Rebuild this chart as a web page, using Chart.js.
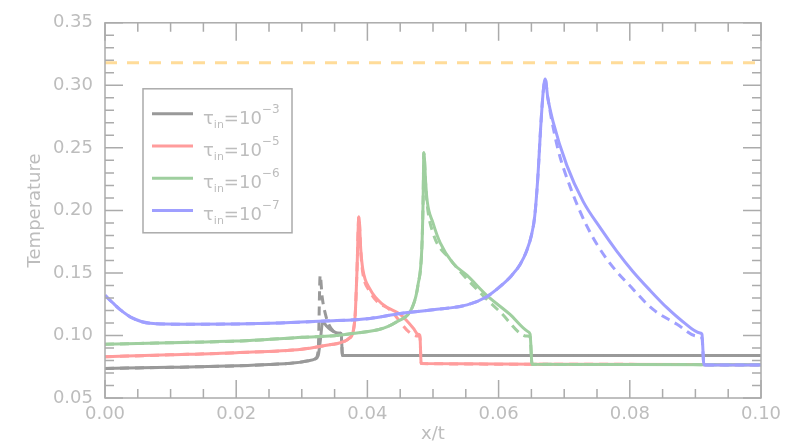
<!DOCTYPE html>
<html>
<head>
<meta charset="utf-8">
<script src="https://cdn.jsdelivr.net/npm/chart.js@4/dist/chart.umd.min.js"></script>
<style>body{margin:0;background:#fff}</style>
</head>
<body>
<canvas id="chart" width="800" height="443"></canvas>
<script>
// values
const xTickVals = [0, 0.02, 0.04, 0.06, 0.08, 0.10];
const yTickVals = [0.05, 0.10, 0.15, 0.20, 0.25, 0.30, 0.35];

// tau_in = 1e-3 (grey)
const tau3X  = [0, 0.01, 0.02, 0.025, 0.029, 0.031, 0.032, 0.0325, 0.0328, 0.0332, 0.0337, 0.0343, 0.0355, 0.0360, 0.0362, 0.1];
const tau3Y  = [0.0736, 0.0745, 0.0757, 0.0767, 0.0782, 0.0797, 0.0812, 0.084, 0.095, 0.111, 0.108, 0.105, 0.102, 0.1015, 0.084, 0.084];
const tau3dX = [0, 0.01, 0.02, 0.025, 0.029, 0.031, 0.032, 0.0325, 0.0328, 0.0331, 0.0336, 0.0341, 0.0348, 0.0355, 0.0360, 0.0362, 0.1];
const tau3dY = [0.0736, 0.0745, 0.0757, 0.0767, 0.0782, 0.0797, 0.0812, 0.088, 0.148, 0.131, 0.117, 0.109, 0.1035, 0.102, 0.1015, 0.084, 0.084];

// tau_in = 1e-5 (pink)
const tau5X  = [0, 0.01, 0.02, 0.03, 0.0348, 0.0373, 0.0381, 0.0384, 0.0387, 0.0390, 0.0393, 0.0404, 0.0424, 0.0450, 0.0470, 0.0477, 0.0480, 0.0482, 0.07, 0.1];
const tau5Y  = [0.083, 0.0845, 0.0862, 0.089, 0.093, 0.098, 0.1136, 0.15, 0.195, 0.168, 0.153, 0.137, 0.1246, 0.1168, 0.1058, 0.101, 0.100, 0.0775, 0.077, 0.0765];
const tau5dX = [0, 0.01, 0.02, 0.03, 0.0348, 0.0373, 0.0381, 0.0384, 0.0387, 0.0390, 0.0393, 0.0404, 0.0415, 0.0434, 0.0465, 0.0477, 0.0480, 0.0482, 0.07, 0.1];
const tau5dY = [0.083, 0.0845, 0.0862, 0.089, 0.093, 0.098, 0.1136, 0.15, 0.195, 0.166, 0.150, 0.135, 0.127, 0.1207, 0.102, 0.0995, 0.099, 0.0775, 0.077, 0.0765];

// tau_in = 1e-6 (green)
const tau6X  = [0, 0.01, 0.02, 0.03, 0.0369, 0.0445, 0.0470, 0.0477, 0.0483, 0.0485, 0.0486, 0.0489, 0.0491, 0.0500, 0.0511, 0.0530, 0.0552, 0.0582, 0.0617, 0.0645, 0.0648, 0.0651, 0.08, 0.1];
const tau6Y  = [0.093, 0.0942, 0.0955, 0.0985, 0.101, 0.111, 0.1246, 0.140, 0.17, 0.21, 0.246, 0.221, 0.208, 0.190, 0.174, 0.158, 0.148, 0.132, 0.117, 0.103, 0.101, 0.077, 0.0768, 0.0765];
const tau6dX = [0, 0.01, 0.02, 0.03, 0.0369, 0.0445, 0.0470, 0.0477, 0.0483, 0.0485, 0.0486, 0.0489, 0.0491, 0.0500, 0.0526, 0.0576, 0.0602, 0.0643, 0.0648, 0.0651, 0.08, 0.1];
const tau6dY = [0.093, 0.0942, 0.0955, 0.0985, 0.101, 0.111, 0.1246, 0.140, 0.17, 0.21, 0.246, 0.219, 0.205, 0.182, 0.161, 0.132, 0.119, 0.0995, 0.099, 0.077, 0.0768, 0.0765];

// tau_in = 1e-7 (blue)
const tau7X  = [0, 0.0012, 0.0023, 0.0043, 0.0069, 0.012, 0.02, 0.0267, 0.0335, 0.0404, 0.045, 0.050, 0.0552, 0.0582, 0.0602, 0.0620, 0.0633, 0.0643, 0.0650, 0.0655, 0.0660, 0.0664, 0.0668, 0.0671, 0.0675, 0.0683, 0.0704, 0.0729, 0.0755, 0.0780, 0.0805, 0.0831, 0.0857, 0.0881, 0.0907, 0.0910, 0.0913, 0.1];
const tau7Y  = [0.132, 0.126, 0.1207, 0.1136, 0.1097, 0.109, 0.1092, 0.110, 0.1115, 0.1136, 0.1176, 0.1205, 0.1245, 0.131, 0.139, 0.148, 0.157, 0.168, 0.180, 0.195, 0.228, 0.265, 0.295, 0.305, 0.29, 0.271, 0.236, 0.207, 0.186, 0.1675, 0.151, 0.136, 0.122, 0.111, 0.102, 0.101, 0.0763, 0.0763];
const tau7dX = [0, 0.0012, 0.0023, 0.0043, 0.0069, 0.012, 0.02, 0.0267, 0.0335, 0.0404, 0.045, 0.050, 0.0552, 0.0582, 0.0602, 0.0620, 0.0633, 0.0643, 0.0650, 0.0655, 0.0660, 0.0664, 0.0668, 0.0671, 0.0675, 0.0690, 0.0709, 0.0735, 0.0765, 0.0805, 0.0835, 0.0872, 0.0902, 0.0910, 0.0913, 0.1];
const tau7dY = [0.132, 0.126, 0.1207, 0.1136, 0.1097, 0.109, 0.1092, 0.110, 0.1115, 0.1136, 0.1176, 0.1205, 0.1245, 0.131, 0.139, 0.148, 0.157, 0.168, 0.180, 0.195, 0.228, 0.265, 0.295, 0.305, 0.29, 0.25, 0.219, 0.187, 0.161, 0.137, 0.121, 0.109, 0.0995, 0.098, 0.0763, 0.0763];

// reference level (orange dashed)
const refX = [0, 0.1];
const refY = [0.318, 0.318];

const legendLabels = ['−3', '−5', '−6', '−7'];
const colors = ['#999999', '#ff9c9c', '#9fcf9f', '#9f9fff'];

const FONT = '"DejaVu Sans", sans-serif';
const LABEL_COLOR = '#bdbdbd';
const FRAME_COLOR = '#ababab';

function pts(xs, ys) {
  return xs.map((x, i) => ({x: x, y: ys[i]}));
}

function line(xs, ys, color, dashed, order) {
  return {
    data: pts(xs, ys),
    borderColor: color,
    borderWidth: 3,
    borderDash: dashed ? [9, 6] : [],
    pointRadius: 0,
    cubicInterpolationMode: 'monotone',
    fill: false,
    order: order
  };
}

// frame + inward ticks on all four sides (matplotlib look)
const frameTicks = {
  id: 'frameTicks',
  afterDatasetsDraw(chart) {
    const {ctx, chartArea: a, scales} = chart;
    const sx = scales.x, sy = scales.y;
    ctx.save();
    ctx.strokeStyle = FRAME_COLOR;
    ctx.lineWidth = 1.5;
    ctx.beginPath();
    for (let i = 0; i <= 20; i++) {
      const px = sx.getPixelForValue(i * 0.005);
      const len = i % 4 === 0 ? 18 : 9;
      ctx.moveTo(px, a.bottom); ctx.lineTo(px, a.bottom - len);
      ctx.moveTo(px, a.top); ctx.lineTo(px, a.top + len);
    }
    for (let i = 5; i <= 35; i++) {
      const py = sy.getPixelForValue(i * 0.01);
      const len = i % 5 === 0 ? 18 : 9;
      ctx.moveTo(a.left, py); ctx.lineTo(a.left + len, py);
      ctx.moveTo(a.right, py); ctx.lineTo(a.right - len, py);
    }
    ctx.stroke();
    ctx.strokeRect(a.left, a.top, a.right - a.left, a.bottom - a.top);
    ctx.restore();
  }
};

// legend with sub/superscripts
const texLegend = {
  id: 'texLegend',
  afterDatasetsDraw(chart) {
    const {ctx, chartArea: a} = chart;
    const bx = a.left + 38, by = a.top + 66, bw = 149, bh = 144;
    ctx.save();
    ctx.fillStyle = '#fff';
    ctx.fillRect(bx, by, bw, bh);
    ctx.strokeStyle = FRAME_COLOR;
    ctx.lineWidth = 1.5;
    ctx.strokeRect(bx, by, bw, bh);
    legendLabels.forEach((exp, i) => {
      const cy = by + 25 + i * 32.2;
      ctx.strokeStyle = colors[i];
      ctx.lineWidth = 3;
      ctx.beginPath();
      ctx.moveTo(bx + 9, cy); ctx.lineTo(bx + 50, cy);
      ctx.stroke();
      const base = cy + 10;
      let x = bx + 60;
      ctx.fillStyle = LABEL_COLOR;
      ctx.textBaseline = 'alphabetic';
      ctx.textAlign = 'left';
      ctx.font = '18px ' + FONT;
      ctx.fillText('τ', x, base);
      x += ctx.measureText('τ').width;
      ctx.font = '11px ' + FONT;
      ctx.fillText('in', x, base + 4);
      x += ctx.measureText('in').width;
      ctx.font = '18px ' + FONT;
      ctx.fillText('=10', x, base);
      x += ctx.measureText('=10').width;
      ctx.font = '12px ' + FONT;
      ctx.fillText(exp, x, base - 11);
    });
    ctx.restore();
  }
};

const datasets = [
  line(refX, refY, '#ffdc99', false, 9),
  line(tau3X, tau3Y, colors[0], false, 8),
  line(tau3dX, tau3dY, colors[0], true, 7),
  line(tau5X, tau5Y, colors[1], false, 6),
  line(tau5dX, tau5dY, colors[1], true, 5),
  line(tau6X, tau6Y, colors[2], false, 4),
  line(tau6dX, tau6dY, colors[2], true, 3),
  line(tau7X, tau7Y, colors[3], false, 2),
  line(tau7dX, tau7dY, colors[3], true, 1)
];
datasets[0].borderDash = [12, 10];

new Chart(document.getElementById('chart'), {
  type: 'line',
  data: {datasets: datasets},
  options: {
    responsive: false,
    animation: false,
    layout: {padding: {top: 16, right: 39, left: 0, bottom: 0}},
    plugins: {legend: {display: false}, tooltip: {enabled: false}},
    scales: {
      x: {
        type: 'linear', min: 0, max: 0.1,
        afterBuildTicks: s => { s.ticks = xTickVals.map(v => ({value: v})); },
        afterFit: s => { s.height = 45; },
        grid: {display: false, drawTicks: false},
        border: {display: false},
        ticks: {
          color: LABEL_COLOR, font: {family: FONT, size: 18}, padding: 6,
          maxRotation: 0, callback: v => v.toFixed(2)
        },
        title: {display: true, text: 'x/t', color: LABEL_COLOR,
                font: {family: FONT, size: 18, lineHeight: 1}, padding: {top: 0, bottom: 0}}
      },
      y: {
        type: 'linear', min: 0.05, max: 0.35,
        afterBuildTicks: s => { s.ticks = yTickVals.map(v => ({value: v})); },
        afterFit: s => { s.width = 105; },
        grid: {display: false, drawTicks: false},
        border: {display: false},
        ticks: {
          color: LABEL_COLOR, font: {family: FONT, size: 18}, padding: 12,
          callback: v => v.toFixed(2)
        },
        title: {display: true, text: 'Temperature', color: LABEL_COLOR,
                font: {family: FONT, size: 18, lineHeight: 1}, padding: {top: 26, bottom: 0}}
      }
    }
  },
  plugins: [frameTicks, texLegend]
});
</script>
</body>
</html>
